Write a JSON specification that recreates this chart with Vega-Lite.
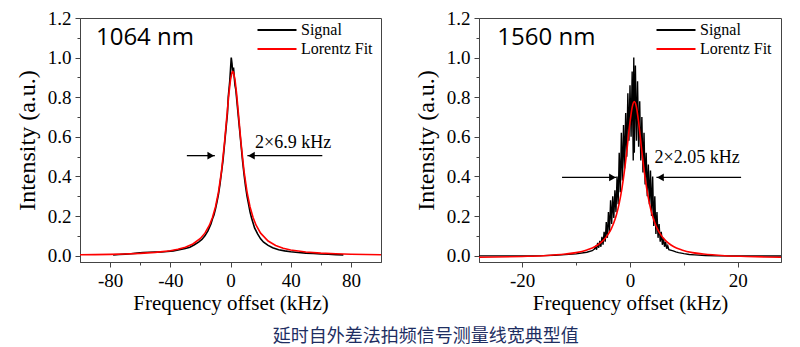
{
  "$schema": "https://vega.github.io/schema/vega-lite/v6.json",
  "background": "white",
  "padding": {"left": 14, "top": 8, "right": 5, "bottom": 5},
  "config": {
    "view": {"stroke": "#444", "strokeWidth": 1},
    "font": "Liberation Serif, Times New Roman, serif",
    "axis": {
      "labelFont": "Liberation Serif, Times New Roman, serif", "titleFont": "Liberation Serif, Times New Roman, serif",
      "labelFontSize": 19, "titleFontSize": 21, "titleFontWeight": "normal",
      "labelColor": "black", "titleColor": "black",
      "domainColor": "#444", "tickColor": "#444", "domainWidth": 1, "tickWidth": 1,
      "grid": false, "labelPadding": 4, "labelFlush": false, "labelOverlap": false
    },
    "legend": {
      "labelFont": "Liberation Serif, Times New Roman, serif", "labelFontSize": 16, "labelColor": "black",
      "padding": 0, "rowPadding": 3, "symbolStrokeWidth": 2, "labelOffset": 16
    }
  },
  "title": {
    "text": "延时自外差法拍频信号测量线宽典型值", "orient": "bottom", "font": "Noto Sans CJK SC",
    "fontSize": 18, "fontWeight": "normal", "color": "#1e2e62", "anchor": "middle", "dx": 26, "offset": 14
  },
  "spacing": 28,
  "resolve": {"legend": {"color": "independent"}, "scale": {"color": "independent", "x": "independent", "y": "independent"}},
  "datasets": {
    "sig1": [
      {"f": -78, "v": 0.004}, {"f": -74, "v": 0.006}, {"f": -70, "v": 0.008}, {"f": -66, "v": 0.010},
      {"f": -62, "v": 0.013}, {"f": -58, "v": 0.016}, {"f": -54, "v": 0.017}, {"f": -50, "v": 0.018},
      {"f": -46, "v": 0.019}, {"f": -42, "v": 0.021}, {"f": -38, "v": 0.024}, {"f": -34, "v": 0.030},
      {"f": -30, "v": 0.036}, {"f": -27, "v": 0.043}, {"f": -24, "v": 0.055}, {"f": -21, "v": 0.070},
      {"f": -19, "v": 0.082}, {"f": -17, "v": 0.100}, {"f": -15, "v": 0.125}, {"f": -13, "v": 0.160},
      {"f": -12, "v": 0.185}, {"f": -11, "v": 0.205}, {"f": -10, "v": 0.235}, {"f": -9, "v": 0.270},
      {"f": -8, "v": 0.310}, {"f": -7, "v": 0.360}, {"f": -6, "v": 0.420}, {"f": -5, "v": 0.480},
      {"f": -4, "v": 0.560}, {"f": -3, "v": 0.640}, {"f": -2, "v": 0.720}, {"f": -1.5, "v": 0.800},
      {"f": -1, "v": 0.840}, {"f": -0.5, "v": 0.880}, {"f": 0, "v": 0.940}, {"f": 0.5, "v": 1.000},
      {"f": 1, "v": 0.970}, {"f": 1.5, "v": 0.920}, {"f": 2, "v": 0.950}, {"f": 2.5, "v": 0.900},
      {"f": 3, "v": 0.860}, {"f": 3.5, "v": 0.840}, {"f": 4, "v": 0.800}, {"f": 5, "v": 0.720},
      {"f": 6, "v": 0.640}, {"f": 7, "v": 0.560}, {"f": 8, "v": 0.480}, {"f": 9, "v": 0.410},
      {"f": 10, "v": 0.350}, {"f": 11, "v": 0.300}, {"f": 12, "v": 0.260}, {"f": 13, "v": 0.220},
      {"f": 14, "v": 0.190}, {"f": 15, "v": 0.165}, {"f": 16, "v": 0.140}, {"f": 18, "v": 0.110},
      {"f": 20, "v": 0.085}, {"f": 22, "v": 0.068}, {"f": 25, "v": 0.052}, {"f": 28, "v": 0.040},
      {"f": 32, "v": 0.030}, {"f": 36, "v": 0.024}, {"f": 40, "v": 0.020}, {"f": 45, "v": 0.016},
      {"f": 50, "v": 0.013}, {"f": 55, "v": 0.011}, {"f": 60, "v": 0.009}, {"f": 65, "v": 0.007},
      {"f": 70, "v": 0.005}, {"f": 75, "v": 0.004}
    ],
    "fit1": [
      {"f": -100, "v": 0.0045}, {"f": -90, "v": 0.0053}, {"f": -80, "v": 0.0066}, {"f": -70, "v": 0.0086},
      {"f": -60, "v": 0.0116}, {"f": -50, "v": 0.0164}, {"f": -40, "v": 0.025}, {"f": -35, "v": 0.032},
      {"f": -30, "v": 0.0426}, {"f": -25, "v": 0.059}, {"f": -20, "v": 0.0868}, {"f": -17, "v": 0.1136},
      {"f": -14, "v": 0.1537}, {"f": -12, "v": 0.1925}, {"f": -10, "v": 0.246}, {"f": -8, "v": 0.321},
      {"f": -6, "v": 0.426}, {"f": -4, "v": 0.569}, {"f": -2, "v": 0.740}, {"f": -1, "v": 0.822},
      {"f": 0, "v": 0.888}, {"f": 1, "v": 0.925}, {"f": 1.5, "v": 0.930}, {"f": 2, "v": 0.925},
      {"f": 3, "v": 0.888}, {"f": 4, "v": 0.822}, {"f": 5, "v": 0.740}, {"f": 7, "v": 0.569},
      {"f": 9, "v": 0.426}, {"f": 11, "v": 0.321}, {"f": 13, "v": 0.246}, {"f": 15, "v": 0.1925},
      {"f": 17, "v": 0.1537}, {"f": 20, "v": 0.1136}, {"f": 25, "v": 0.0738}, {"f": 30, "v": 0.0515},
      {"f": 35, "v": 0.0378}, {"f": 40, "v": 0.029}, {"f": 50, "v": 0.0185}, {"f": 60, "v": 0.0128},
      {"f": 70, "v": 0.0093}, {"f": 80, "v": 0.0071}, {"f": 90, "v": 0.0056}, {"f": 100, "v": 0.0045}
    ],
    "sig2": [
      {"f": -28, "v": -0.001}, {"f": -24, "v": -0.001}, {"f": -20, "v": -0.001}, {"f": -16, "v": 0.000},
      {"f": -14, "v": 0.002}, {"f": -12, "v": 0.005}, {"f": -10, "v": 0.009}, {"f": -8, "v": 0.017},
      {"f": -7, "v": 0.025}, {"f": -6.6, "v": 0.033},
      {"f": -6.4, "v": 0.045}, {"f": -6.2, "v": 0.030}, {"f": -6.0, "v": 0.065}, {"f": -5.8, "v": 0.040},
      {"f": -5.6, "v": 0.075}, {"f": -5.4, "v": 0.045}, {"f": -5.2, "v": 0.095}, {"f": -5.0, "v": 0.055},
      {"f": -4.8, "v": 0.12}, {"f": -4.6, "v": 0.07}, {"f": -4.4, "v": 0.17}, {"f": -4.2, "v": 0.09},
      {"f": -4.0, "v": 0.22}, {"f": -3.8, "v": 0.12}, {"f": -3.6, "v": 0.28}, {"f": -3.4, "v": 0.16},
      {"f": -3.2, "v": 0.30}, {"f": -3.0, "v": 0.19}, {"f": -2.8, "v": 0.33}, {"f": -2.6, "v": 0.22},
      {"f": -2.4, "v": 0.40}, {"f": -2.2, "v": 0.26}, {"f": -2.0, "v": 0.52}, {"f": -1.8, "v": 0.32},
      {"f": -1.6, "v": 0.62}, {"f": -1.4, "v": 0.38}, {"f": -1.2, "v": 0.66}, {"f": -1.0, "v": 0.44},
      {"f": -0.8, "v": 0.72}, {"f": -0.6, "v": 0.50}, {"f": -0.4, "v": 0.82}, {"f": -0.2, "v": 0.58},
      {"f": 0.0, "v": 0.86}, {"f": 0.2, "v": 0.60}, {"f": 0.4, "v": 0.93}, {"f": 0.6, "v": 0.48},
      {"f": 0.7, "v": 1.00}, {"f": 0.8, "v": 0.52}, {"f": 1.0, "v": 0.96}, {"f": 1.2, "v": 0.58},
      {"f": 1.4, "v": 0.88}, {"f": 1.6, "v": 0.55}, {"f": 1.8, "v": 0.78}, {"f": 2.0, "v": 0.48},
      {"f": 2.2, "v": 0.70}, {"f": 2.4, "v": 0.42}, {"f": 2.6, "v": 0.62}, {"f": 2.8, "v": 0.36},
      {"f": 3.0, "v": 0.52}, {"f": 3.2, "v": 0.30}, {"f": 3.4, "v": 0.46}, {"f": 3.6, "v": 0.26},
      {"f": 3.8, "v": 0.43}, {"f": 4.0, "v": 0.20}, {"f": 4.2, "v": 0.40}, {"f": 4.4, "v": 0.15},
      {"f": 4.6, "v": 0.30}, {"f": 4.8, "v": 0.11}, {"f": 5.0, "v": 0.22}, {"f": 5.2, "v": 0.09},
      {"f": 5.4, "v": 0.16}, {"f": 5.6, "v": 0.07}, {"f": 5.8, "v": 0.12}, {"f": 6.0, "v": 0.055},
      {"f": 6.2, "v": 0.09}, {"f": 6.4, "v": 0.045}, {"f": 6.6, "v": 0.07}, {"f": 6.8, "v": 0.035},
      {"f": 7.0, "v": 0.05}, {"f": 7.2, "v": 0.03},
      {"f": 8, "v": 0.024}, {"f": 8.5, "v": 0.019}, {"f": 9, "v": 0.015}, {"f": 10, "v": 0.010},
      {"f": 11, "v": 0.006}, {"f": 12, "v": 0.004}, {"f": 14, "v": 0.001}, {"f": 16, "v": -0.001},
      {"f": 20, "v": -0.002}, {"f": 24, "v": -0.002}, {"f": 28, "v": -0.002}
    ],
    "fit2": [
      {"f": -28, "v": -0.008}, {"f": -25, "v": -0.007}, {"f": -20, "v": -0.004}, {"f": -16, "v": -0.0004},
      {"f": -12, "v": 0.008}, {"f": -10, "v": 0.0155}, {"f": -8, "v": 0.029}, {"f": -7, "v": 0.039},
      {"f": -6, "v": 0.054}, {"f": -5, "v": 0.076}, {"f": -4, "v": 0.110}, {"f": -3.5, "v": 0.134},
      {"f": -3, "v": 0.166}, {"f": -2.5, "v": 0.208}, {"f": -2, "v": 0.264}, {"f": -1.5, "v": 0.338},
      {"f": -1, "v": 0.434}, {"f": -0.5, "v": 0.551}, {"f": 0, "v": 0.674}, {"f": 0.4, "v": 0.749},
      {"f": 0.8, "v": 0.778}, {"f": 1.2, "v": 0.749}, {"f": 1.6, "v": 0.674}, {"f": 2.1, "v": 0.551},
      {"f": 2.6, "v": 0.434}, {"f": 3.1, "v": 0.338}, {"f": 3.6, "v": 0.264}, {"f": 4.1, "v": 0.208},
      {"f": 4.6, "v": 0.166}, {"f": 5.1, "v": 0.134}, {"f": 5.6, "v": 0.110}, {"f": 6.6, "v": 0.076},
      {"f": 7.6, "v": 0.054}, {"f": 8.6, "v": 0.039}, {"f": 9.6, "v": 0.029}, {"f": 11.6, "v": 0.0155},
      {"f": 13.6, "v": 0.008}, {"f": 17.6, "v": -0.0004}, {"f": 21.6, "v": -0.004}, {"f": 25, "v": -0.0064},
      {"f": 28, "v": -0.008}
    ],
    "arr1": [
      {"x0": -29, "x1": -10.4, "hx": -13.1, "y": 0.505, "dir": "right"},
      {"x0": 61, "x1": 11.2, "hx": 13.9, "y": 0.505, "dir": "left"}
    ],
    "arr2": [
      {"x0": -12.6, "x1": -2.5, "hx": -3.25, "y": 0.395, "dir": "right"},
      {"x0": 20.6, "x1": 4.9, "hx": 5.65, "y": 0.395, "dir": "left"}
    ],
    "lab1": [{"x": 16.3, "y": 0.545, "t": "2×6.9 kHz"}],
    "lab2": [{"x": 4.56, "y": 0.47, "t": "2×2.05 kHz"}],
    "name1": [{"x": -89.4, "y": 1.066, "t": "1064 nm"}],
    "name2": [{"x": -24.6, "y": 1.066, "t": "1560 nm"}]
  },
  "hconcat": [
    {
      "width": 301, "height": 244,
      "encoding": {
        "x": {"field": "f", "type": "quantitative", "title": "Frequency offset (kHz)",
          "scale": {"domain": [-100, 100], "nice": false, "zero": false},
          "axis": {"values": [-80, -60, -40, -20, 0, 20, 40, 60, 80],
            "labelExpr": "datum.value % 40 == 0 ? (datum.value < 0 ? '-' + abs(datum.value) : '' + datum.value) : ''",
            "tickSize": {"condition": {"test": "datum.value % 40 == 0", "value": 5}, "value": 3},
            "titlePadding": 2}},
        "y": {"field": "v", "type": "quantitative", "title": "Intensity (a.u.)",
          "scale": {"domain": [-0.032, 1.2], "nice": false, "zero": false},
          "axis": {"values": [0, 0.1, 0.2, 0.3, 0.4, 0.5, 0.6, 0.7, 0.8, 0.9, 1.0, 1.1, 1.2],
            "labelExpr": "round(datum.value * 10) % 2 == 0 ? format(datum.value, '.1f') : ''",
            "tickSize": {"condition": {"test": "round(datum.value * 10) % 2 == 0", "value": 5}, "value": 3},
            "titlePadding": 8, "titleFontSize": 24}}
      },
      "layer": [
        {"data": {"name": "sig1"}, "mark": {"type": "line", "strokeWidth": 1.6},
          "encoding": {"color": {"datum": "Signal", "type": "nominal",
            "scale": {"domain": ["Signal", "Lorentz Fit"], "range": ["#000000", "#ff0000"]},
            "legend": {"title": null, "orient": "none", "legendX": 189, "legendY": 4,
              "symbolType": "M-3,0H3", "symbolSize": 169}}}},
        {"data": {"name": "fit1"}, "mark": {"type": "line", "strokeWidth": 1.6},
          "encoding": {"color": {"datum": "Lorentz Fit", "type": "nominal"}}},
        {"data": {"name": "arr1"}, "mark": {"type": "rule", "color": "black", "strokeWidth": 1.3},
          "encoding": {"x": {"field": "x0", "type": "quantitative"}, "x2": {"field": "x1"}, "y": {"field": "y", "type": "quantitative"}}},
        {"data": {"name": "arr1"}, "mark": {"type": "point", "filled": true, "color": "black", "opacity": 1, "size": 60},
          "encoding": {"x": {"field": "hx", "type": "quantitative"}, "y": {"field": "y", "type": "quantitative"},
            "shape": {"field": "dir", "type": "nominal", "scale": {"domain": ["right", "left"], "range": ["triangle-right", "triangle-left"]}, "legend": null}}},
        {"data": {"name": "lab1"}, "mark": {"type": "text", "font": "Liberation Serif, Times New Roman, serif", "fontSize": 18, "align": "left", "baseline": "alphabetic", "color": "black"},
          "encoding": {"x": {"field": "x", "type": "quantitative"}, "y": {"field": "y", "type": "quantitative"}, "text": {"field": "t"}}},
        {"data": {"name": "name1"}, "mark": {"type": "text", "font": "Open Sans", "fontSize": 24, "align": "left", "baseline": "alphabetic", "color": "black"},
          "encoding": {"x": {"field": "x", "type": "quantitative"}, "y": {"field": "y", "type": "quantitative"}, "text": {"field": "t"}}}
      ]
    },
    {
      "width": 302, "height": 244,
      "encoding": {
        "x": {"field": "f", "type": "quantitative", "title": "Frequency offset (kHz)",
          "scale": {"domain": [-28, 28], "nice": false, "zero": false},
          "axis": {"values": [-20, -10, 0, 10, 20],
            "labelExpr": "datum.value % 20 == 0 ? (datum.value < 0 ? '-' + abs(datum.value) : '' + datum.value) : ''",
            "tickSize": {"condition": {"test": "datum.value % 20 == 0", "value": 5}, "value": 3},
            "titlePadding": 2}},
        "y": {"field": "v", "type": "quantitative", "title": "Intensity (a.u.)",
          "scale": {"domain": [-0.032, 1.2], "nice": false, "zero": false},
          "axis": {"values": [0, 0.1, 0.2, 0.3, 0.4, 0.5, 0.6, 0.7, 0.8, 0.9, 1.0, 1.1, 1.2],
            "labelExpr": "round(datum.value * 10) % 2 == 0 ? format(datum.value, '.1f') : ''",
            "tickSize": {"condition": {"test": "round(datum.value * 10) % 2 == 0", "value": 5}, "value": 3},
            "titlePadding": 8, "titleFontSize": 24}}
      },
      "layer": [
        {"data": {"name": "sig2"}, "mark": {"type": "line", "strokeWidth": 1.4},
          "encoding": {"color": {"datum": "Signal", "type": "nominal",
            "scale": {"domain": ["Signal", "Lorentz Fit"], "range": ["#000000", "#ff0000"]},
            "legend": {"title": null, "orient": "none", "legendX": 189, "legendY": 4,
              "symbolType": "M-3,0H3", "symbolSize": 169}}}},
        {"data": {"name": "fit2"}, "mark": {"type": "line", "strokeWidth": 1.6, "interpolate": "monotone"},
          "encoding": {"color": {"datum": "Lorentz Fit", "type": "nominal"}}},
        {"data": {"name": "arr2"}, "mark": {"type": "rule", "color": "black", "strokeWidth": 1.3},
          "encoding": {"x": {"field": "x0", "type": "quantitative"}, "x2": {"field": "x1"}, "y": {"field": "y", "type": "quantitative"}}},
        {"data": {"name": "arr2"}, "mark": {"type": "point", "filled": true, "color": "black", "opacity": 1, "size": 60},
          "encoding": {"x": {"field": "hx", "type": "quantitative"}, "y": {"field": "y", "type": "quantitative"},
            "shape": {"field": "dir", "type": "nominal", "scale": {"domain": ["right", "left"], "range": ["triangle-right", "triangle-left"]}, "legend": null}}},
        {"data": {"name": "lab2"}, "mark": {"type": "text", "font": "Liberation Serif, Times New Roman, serif", "fontSize": 18, "align": "left", "baseline": "alphabetic", "color": "black"},
          "encoding": {"x": {"field": "x", "type": "quantitative"}, "y": {"field": "y", "type": "quantitative"}, "text": {"field": "t"}}},
        {"data": {"name": "name2"}, "mark": {"type": "text", "font": "Open Sans", "fontSize": 24, "align": "left", "baseline": "alphabetic", "color": "black"},
          "encoding": {"x": {"field": "x", "type": "quantitative"}, "y": {"field": "y", "type": "quantitative"}, "text": {"field": "t"}}}
      ]
    }
  ]
}
